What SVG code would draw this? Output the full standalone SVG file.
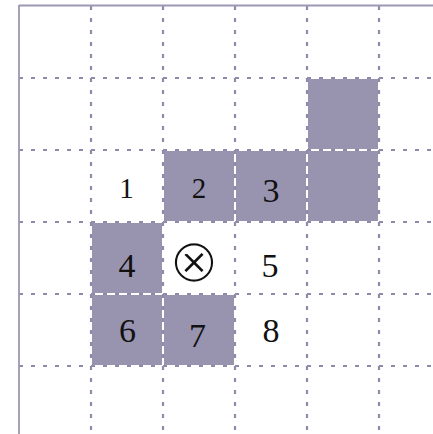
<svg xmlns="http://www.w3.org/2000/svg" width="433" height="434" viewBox="0 0 433 434">
  <style>
    .cell { fill: #9894b0; }
    .grid line { stroke: #8e8aa9; stroke-width: 2.2; stroke-dasharray: 4 8; fill: none; }
    .border { stroke: #9c98b6; stroke-width: 1.8; fill: none; }
    .num { font-family: "Liberation Serif", "DejaVu Serif", serif; fill: #111; text-anchor: middle; }
    .small { font-size: 29px; }
    .big { font-size: 34px; }
  </style>
  <rect width="433" height="434" fill="#ffffff"/>
  <g id="shaded">
    <rect class="cell" x="308" y="79" width="70" height="70"/>
    <rect class="cell" x="164" y="151" width="70" height="70"/>
    <rect class="cell" x="236" y="151" width="70" height="70"/>
    <rect class="cell" x="308" y="151" width="70" height="70"/>
    <rect class="cell" x="92" y="223" width="70" height="70"/>
    <rect class="cell" x="92" y="295" width="70" height="70"/>
    <rect class="cell" x="164" y="295" width="70" height="70"/>
  </g>
  <g class="grid" id="grid">
    <line x1="91" y1="6" x2="91" y2="434"/>
    <line x1="163" y1="6" x2="163" y2="434"/>
    <line x1="235" y1="6" x2="235" y2="434"/>
    <line x1="307" y1="6" x2="307" y2="434"/>
    <line x1="379" y1="6" x2="379" y2="434"/>
    <line x1="19" y1="78" x2="433" y2="78"/>
    <line x1="19" y1="150" x2="433" y2="150"/>
    <line x1="19" y1="222" x2="433" y2="222"/>
    <line x1="19" y1="294" x2="433" y2="294"/>
    <line x1="19" y1="366" x2="433" y2="366"/>
  </g>
  <g id="frame">
    <line class="border" x1="19" y1="5.5" x2="433" y2="5.5"/>
    <line class="border" x1="19" y1="5" x2="19" y2="434"/>
  </g>
  <g id="cell-1"><text class="num small" x="126.5" y="198">1</text></g>
  <g id="cell-2"><text class="num small" x="199" y="198">2</text></g>
  <g id="cell-3"><text class="num big" x="271" y="202">3</text></g>
  <g id="cell-4"><text class="num big" x="127" y="277">4</text></g>
  <g id="cell-x"><text x="194" y="281.5" font-family="DejaVu Sans, sans-serif" font-size="62" text-anchor="middle" fill="#111" stroke="#ffffff" stroke-width="2.4" paint-order="fill stroke">⊗</text></g>
  <g id="cell-5"><text class="num big" x="270" y="277">5</text></g>
  <g id="cell-6"><text class="num big" x="127.5" y="342">6</text></g>
  <g id="cell-7"><text class="num big" x="197.5" y="347">7</text></g>
  <g id="cell-8"><text class="num big" x="271" y="342">8</text></g>
</svg>
